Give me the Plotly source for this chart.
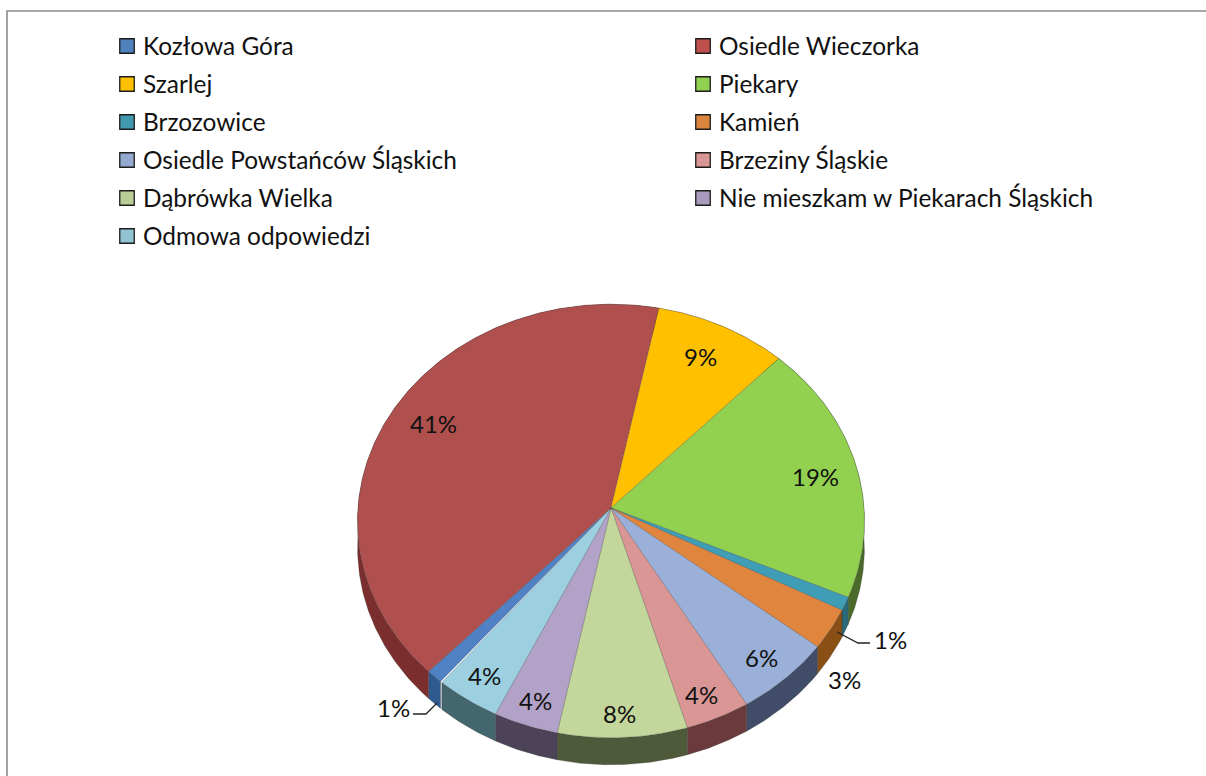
import numpy as np
import plotly.graph_objects as go

categories = ["Kozłowa Góra", "Osiedle Wieczorka", "Szarlej", "Piekary", "Brzozowice", "Kamień",
              "Osiedle Powstańców Śląskich", "Brzeziny Śląskie", "Dąbrówka Wielka",
              "Nie mieszkam w Piekarach Śląskich", "Odmowa odpowiedzi"]
values = [1.0, 41.1, 8.95, 19.45, 1.0, 3.0, 5.9, 3.9, 7.8, 3.9, 3.9]
top_colors = ["#4f81c4", "#b0504e", "#ffc000", "#92d050", "#3f9db5", "#e0853e",
              "#9ab0d8", "#d99694", "#c3d69b", "#b3a2c7", "#9ccfe0"]
side_colors = ["#2f5a90", "#7a2f2e", "#a07a00", "#4a6a2a", "#2a6a7a", "#8a4f15",
               "#414d68", "#6a3a3c", "#4f5a3b", "#4c4359", "#44676f"]
legend_colors = ["#4f81bd", "#c0504d", "#ffc000", "#92d050", "#4198af", "#db843d",
                 "#93a9cf", "#d99694", "#b9cd96", "#a99bbd", "#92c3d3"]

# layout constants (pixels of the page)
CX, CY, RX, RY, PERSP, DEPTH = 611, 508, 253, 216, 0.06, 27
START_DEG = 220.0
LABEL_XY = [(393, 707), (433, 423), (700, 356), (815, 476), (890, 639), (844, 679),
            (761, 657), (701, 694), (619, 713), (535, 700), (484, 675)]
LEADERS = [[(437, 703), (426, 714), (413, 714)], [(837, 632), (858, 643), (870, 643)]]
FONT = "Lato"
LEG_X = [127, 703]
LEG_Y0, LEG_DY = 46, 38


def project(deg):
    t = np.radians(deg)
    u, v = np.sin(t), np.cos(t)
    w = 1 + PERSP * v
    return CX + RX * u / w, CY - RY * v / w


fig = go.Figure()
edges = START_DEG + np.concatenate([[0], np.cumsum(values)]) * 3.6

# side wall
for i, name in enumerate(categories):
    a = np.linspace(edges[i], edges[i + 1], max(3, int(values[i] * 6)))
    x, y = project(a)
    fig.add_trace(go.Scatter(
        x=np.concatenate([x, x[::-1], x[:1]]),
        y=np.concatenate([y, (y + DEPTH)[::-1], y[:1]]),
        mode="lines", fill="toself", fillcolor=side_colors[i],
        line=dict(color="rgba(40,40,40,0.35)", width=0.7),
        hoverinfo="skip", showlegend=False))

# top face
for i, name in enumerate(categories):
    a = np.linspace(edges[i], edges[i + 1], max(3, int(values[i] * 6)))
    x, y = project(a)
    fig.add_trace(go.Scatter(
        x=np.concatenate([[CX], x, [CX]]),
        y=np.concatenate([[CY], y, [CY]]),
        mode="lines", fill="toself", fillcolor=top_colors[i],
        line=dict(color="rgba(50,50,50,0.35)", width=0.7),
        name=name, text=f"{values[i]:.0f}%", hoverinfo="name+text", showlegend=False))

# leader lines
for pts in LEADERS:
    fig.add_trace(go.Scatter(x=[p[0] for p in pts], y=[p[1] for p in pts], mode="lines",
                             line=dict(color="#222222", width=1.3), hoverinfo="skip", showlegend=False))

# legend keys
for i, name in enumerate(categories):
    lx = LEG_X[i % 2]
    ly = LEG_Y0 + LEG_DY * (i // 2)
    fig.add_trace(go.Scatter(x=[lx], y=[ly], mode="markers", hoverinfo="skip", showlegend=False,
                             marker=dict(symbol="square", size=14.5, color=legend_colors[i],
                                         line=dict(color="#1c1c1c", width=1.3))))
    fig.add_annotation(x=lx + 14, y=ly - 1, text=name, showarrow=False, xanchor="left", yanchor="middle",
                       font=dict(family=FONT, size=24.4, color="#111111"))

# value labels
for (lx, ly), v in zip(LABEL_XY, values):
    fig.add_annotation(x=lx, y=ly, text=f"{v:.0f}%", showarrow=False, xanchor="center", yanchor="middle",
                       font=dict(family=FONT, size=24, color="#111111"))

fig.update_layout(
    autosize=False, width=1206, height=776,
    margin=dict(l=0, r=0, t=0, b=0),
    paper_bgcolor="white", plot_bgcolor="white",
    xaxis=dict(range=[0, 1206], visible=False, fixedrange=True),
    yaxis=dict(range=[776, 0], visible=False, fixedrange=True),
    shapes=[dict(type="rect", xref="x", yref="y", x0=7, y0=11, x1=1230, y1=800,
                 line=dict(color="#8c8c8c", width=1.6), layer="below")],
)
fig.write_html("out.html", post_script="document.body.style.margin='0';document.documentElement.style.overflow='hidden';",
               config={"displayModeBar": False})
